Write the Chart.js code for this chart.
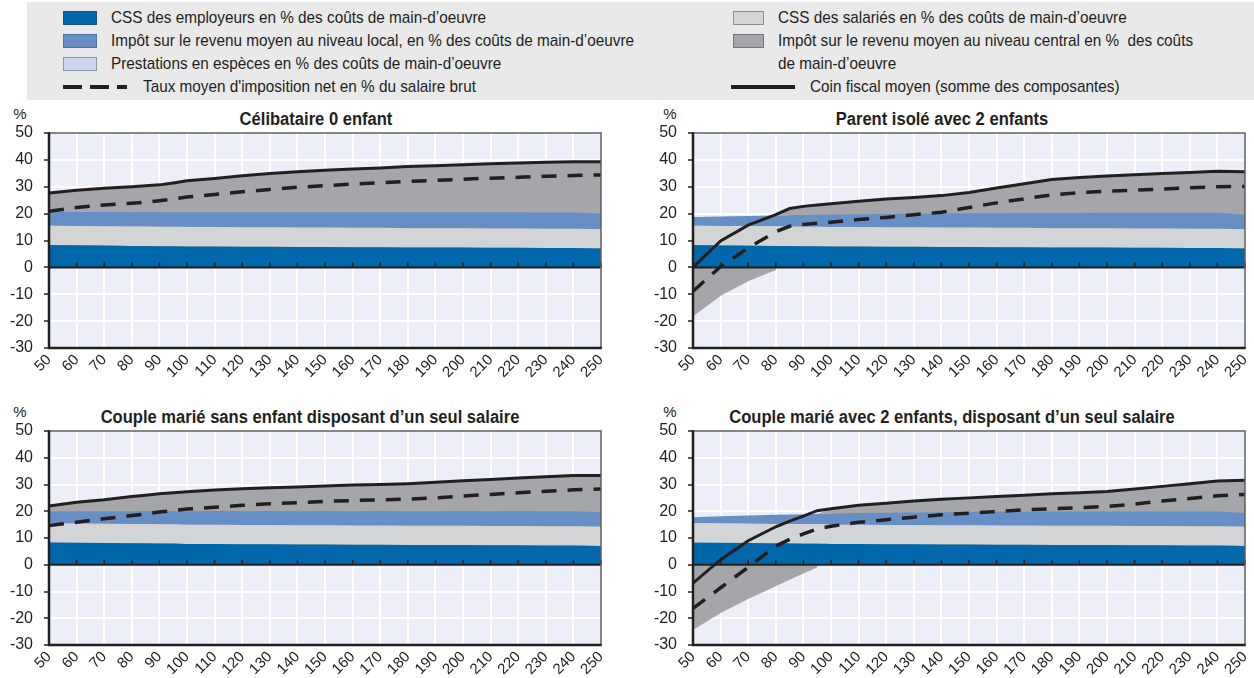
<!DOCTYPE html>
<html lang="fr">
<head>
<meta charset="utf-8">
<title>Coin fiscal moyen par composante</title>
<script src="https://cdn.jsdelivr.net/npm/chart.js@4.4.1/dist/chart.umd.min.js"></script>
<style>
    html, body {
        margin: 0;
        padding: 0;
        background: #fff;
    }
    body {
        position: relative;
        width: 1254px;
        height: 678px;
        overflow: hidden;
        font-family: "Liberation Sans", Arial, sans-serif;
        color: #231f20;
    }
    .abs { position: absolute; }
    #legende {
        position: absolute;
        left: 27px;
        top: 2px;
        width: 1227px;
        height: 98px;
        background: #e9e9ea;
    }
    .leg-texte {
        position: absolute;
        font-size: 17px;
        line-height: 18px;
        white-space: pre;
        transform: scaleX(0.9);
        transform-origin: left center;
    }
    .carre {
        position: absolute;
        height: 14px;
        box-sizing: border-box;
    }
    .titre {
        position: absolute;
        font-size: 18px;
        font-weight: bold;
        white-space: nowrap;
        transform: translate(-50%, -50%) scaleX(0.92);
    }
    .pct {
        position: absolute;
        font-size: 15px;
        transform: translate(-50%, -50%);
    }
    canvas { position: absolute; }
</style>
</head>
<body>

<div id="legende"></div>
<div class="carre" style="left:63px;top:11px;width:34px;background:#0068aa;border:1px solid #1b4f7e"></div>
<div class="leg-texte" style="left:111px;top:9px">CSS des employeurs en % des coûts de main-d’oeuvre</div>
<div class="carre" style="left:63px;top:34px;width:34px;background:#6690c5;border:1px solid #4b72a3"></div>
<div class="leg-texte" style="left:111px;top:32px">Impôt sur le revenu moyen au niveau local, en % des coûts de main-d’oeuvre</div>
<div class="carre" style="left:63px;top:57px;width:34px;background:#cdd9ef;border:1px solid #8c97ae"></div>
<div class="leg-texte" style="left:111px;top:55px">Prestations en espèces en % des coûts de main-d’oeuvre</div>
<svg class="abs" style="left:60px;top:80px" width="72" height="14">
    <line x1="3" y1="7" x2="67" y2="7" stroke="#231f20" stroke-width="4" stroke-dasharray="19 8"/>
</svg>
<div class="leg-texte" style="left:143px;top:78px">Taux moyen d'imposition net en % du salaire brut</div>

<div class="carre" style="left:733px;top:11px;width:31px;background:#d3d4d5;border:1px solid #8e8e8e"></div>
<div class="leg-texte" style="left:778px;top:9px">CSS des salariés en % des coûts de main-d’oeuvre</div>
<div class="carre" style="left:733px;top:34px;width:31px;background:#a5a6a9;border:1px solid #76777a"></div>
<div class="leg-texte" style="left:778px;top:32px">Impôt sur le revenu moyen au niveau central en %  des coûts</div>
<div class="leg-texte" style="left:778px;top:55px">de main-d’oeuvre</div>
<svg class="abs" style="left:728px;top:80px" width="72" height="14">
    <line x1="3" y1="7" x2="67" y2="7" stroke="#231f20" stroke-width="4"/>
</svg>
<div class="leg-texte" style="left:810px;top:78px">Coin fiscal moyen (somme des composantes)</div>

<div class="pct" style="left:20px;top:113px">%</div>
<div class="titre" style="left:316px;top:119px">Célibataire 0 enfant</div>
<div class="pct" style="left:670px;top:113px">%</div>
<div class="titre" style="left:942px;top:119px">Parent isolé avec 2 enfants</div>
<div class="pct" style="left:20px;top:411px">%</div>
<div class="titre" style="left:310px;top:417px">Couple marié sans enfant disposant d’un seul salaire</div>
<div class="pct" style="left:670px;top:411px">%</div>
<div class="titre" style="left:952px;top:417px">Couple marié avec 2 enfants, disposant d’un seul salaire</div>

<canvas id="celib" width="620" height="262" style="left:0px;top:123px"></canvas>
<canvas id="parent" width="610" height="262" style="left:644px;top:123px"></canvas>
<canvas id="coupleSans" width="620" height="257" style="left:0px;top:421px"></canvas>
<canvas id="coupleDeux" width="610" height="257" style="left:644px;top:421px"></canvas>

<script>
// Salaire brut en % du salaire moyen
const abscisses = [50, 60, 70, 80, 85, 90, 95, 100, 110, 120, 130, 140, 150, 160, 170, 180, 190, 200, 210, 220, 230, 240, 250];

// CSS (identiques pour tous les ménages), en % des coûts de main-d'oeuvre
const cssEmployeurs = [8.3, 8.2, 8.1, 8.0, 8.0, 7.9, 7.9, 7.8, 7.8, 7.7, 7.7, 7.6, 7.6, 7.5, 7.5, 7.4, 7.4, 7.4, 7.3, 7.3, 7.2, 7.2, 7.0];
const cssSalaries = [7.2, 7.2, 7.2, 7.2, 7.2, 7.2, 7.2, 7.2, 7.2, 7.2, 7.2, 7.2, 7.2, 7.2, 7.2, 7.2, 7.2, 7.2, 7.2, 7.2, 7.2, 7.2, 7.2];

// Célibataire 0 enfant
const impotLocalCelib = [5.1, 5.2, 5.3, 5.3, 5.4, 5.4, 5.4, 5.5, 5.5, 5.6, 5.6, 5.7, 5.7, 5.8, 5.8, 5.9, 5.9, 5.9, 6.0, 6.0, 6.0, 6.0, 5.8];
const impotCentralCelib = [7.1, 8.1, 8.8, 9.5, 9.8, 10.2, 10.9, 11.7, 12.6, 13.6, 14.4, 15.1, 15.6, 16.1, 16.5, 17.0, 17.3, 17.7, 18.1, 18.3, 18.7, 18.9, 19.3];
const coinFiscalCelib = [27.7, 28.7, 29.4, 30.0, 30.4, 30.7, 31.4, 32.2, 33.1, 34.1, 34.9, 35.6, 36.1, 36.6, 37.0, 37.5, 37.8, 38.2, 38.6, 38.8, 39.1, 39.3, 39.3];
const tauxNetCelib = [20.9, 22.3, 23.2, 23.9, 24.3, 24.8, 25.4, 26.2, 27.1, 28.1, 29.0, 29.8, 30.4, 31.0, 31.5, 32.0, 32.4, 32.8, 33.2, 33.5, 33.9, 34.2, 34.4];

// Parent isolé avec 2 enfants
const impotLocalParent = [3.2, 3.5, 3.8, 4.1, 4.2, 4.4, 4.5, 4.7, 4.8, 5.0, 5.1, 5.2, 5.3, 5.4, 5.5, 5.6, 5.6, 5.7, 5.8, 5.8, 5.9, 5.9, 5.4];
const impotCentralParent = [-18.3, -10.6, -5.2, -1.0, 2.5, 3.2, 3.6, 4.0, 4.8, 5.5, 6.0, 6.7, 7.8, 9.4, 10.9, 12.5, 13.2, 13.7, 14.2, 14.6, 15.0, 15.5, 16.0];
const coinFiscalParent = [0.0, 9.8, 15.7, 19.6, 21.9, 22.7, 23.2, 23.7, 24.6, 25.4, 26.0, 26.7, 27.9, 29.5, 31.1, 32.7, 33.4, 34.0, 34.5, 34.9, 35.3, 35.8, 35.6];
const tauxNetParent = [-8.9, 0.3, 7.2, 13.3, 15.3, 16.0, 16.4, 16.8, 17.8, 18.6, 19.6, 20.5, 22.3, 24.0, 25.5, 27.0, 27.8, 28.3, 28.7, 29.1, 29.6, 30.0, 30.1];

// Couple marié sans enfant, un seul salaire
const impotLocalCoupleSans = [4.4, 4.6, 4.7, 4.8, 4.9, 4.9, 5.0, 5.0, 5.1, 5.1, 5.2, 5.2, 5.3, 5.3, 5.4, 5.4, 5.4, 5.5, 5.5, 5.6, 5.6, 5.6, 5.4];
const impotCentralCoupleSans = [2.1, 3.4, 4.3, 5.5, 5.9, 6.5, 6.8, 7.3, 7.8, 8.4, 8.7, 9.1, 9.3, 9.8, 9.9, 10.3, 10.8, 11.3, 11.9, 12.3, 12.9, 13.4, 13.8];
const coinFiscalCoupleSans = [22.0, 23.4, 24.3, 25.5, 26.0, 26.5, 26.9, 27.3, 27.9, 28.4, 28.8, 29.1, 29.4, 29.8, 30.0, 30.3, 30.8, 31.4, 31.9, 32.4, 32.9, 33.4, 33.4];
const tauxNetCoupleSans = [14.7, 15.9, 17.2, 18.4, 19.0, 19.7, 20.3, 20.8, 21.5, 22.2, 22.8, 23.2, 23.7, 24.0, 24.3, 24.5, 25.0, 25.7, 26.3, 26.9, 27.5, 28.0, 28.3];

// Couple marié avec 2 enfants, un seul salaire
const impotLocalCoupleDeux = [2.3, 2.7, 3.1, 3.5, 3.6, 3.8, 3.9, 4.1, 4.3, 4.5, 4.6, 4.8, 4.9, 5.1, 5.1, 5.3, 5.3, 5.3, 5.4, 5.4, 5.5, 5.5, 5.1];
const impotCentralCoupleDeux = [-24.4, -18.0, -12.8, -8.0, -5.6, -3.3, -1.0, 1.8, 2.9, 3.6, 4.3, 4.9, 5.3, 5.7, 6.2, 6.6, 7.0, 7.5, 8.4, 9.4, 10.4, 11.4, 12.3];
const coinFiscalCoupleDeux = [-6.9, 1.9, 9.0, 14.2, 16.3, 18.2, 20.2, 20.9, 22.2, 23.0, 23.8, 24.5, 25.0, 25.5, 26.0, 26.5, 26.9, 27.4, 28.3, 29.3, 30.3, 31.3, 31.6];
const tauxNetCoupleDeux = [-16.3, -8.6, -0.9, 7.0, 9.5, 11.5, 13.4, 14.4, 15.9, 16.8, 17.8, 18.7, 19.3, 19.9, 20.5, 20.9, 21.3, 21.8, 22.7, 23.8, 24.8, 25.8, 26.3];

const COULEURS = {
    employeurs: '#0068aa',
    salaries: '#d3d4d5',
    local: '#6690c5',
    central: '#a5a6a9',
    trait: '#231f20',
    fond: '#eceff7'
};
const POLICE = '"Liberation Sans", Arial, sans-serif';

// fond du graphique, ligne du zéro avec ses graduations, cadre
const cadrePlugin = {
    id: 'cadre',
    beforeDraw(chart) {
        const a = chart.chartArea;
        const ctx = chart.ctx;
        ctx.save();
        ctx.fillStyle = COULEURS.fond;
        ctx.fillRect(a.left, a.top, a.right - a.left, a.bottom - a.top);
        ctx.restore();
    },
    afterDatasetsDraw(chart) {
        const a = chart.chartArea;
        const ctx = chart.ctx;
        const y0 = chart.scales.y.getPixelForValue(0);
        ctx.save();
        ctx.strokeStyle = COULEURS.trait;
        ctx.lineWidth = 2;
        ctx.beginPath();
        ctx.moveTo(a.left, y0);
        ctx.lineTo(a.right, y0);
        ctx.stroke();
        ctx.lineWidth = 1.5;
        for (let v = 60; v <= 250; v += 10) {
            const x = chart.scales.x.getPixelForValue(v);
            ctx.beginPath();
            ctx.moveTo(x, y0);
            ctx.lineTo(x, y0 - 5);
            ctx.stroke();
        }
        // haut et droite
        ctx.strokeStyle = '#5f5f61';
        ctx.lineWidth = 1.5;
        ctx.beginPath();
        ctx.moveTo(a.left, a.top);
        ctx.lineTo(a.right, a.top);
        ctx.lineTo(a.right, a.bottom);
        ctx.stroke();
        // axes gauche et bas
        ctx.strokeStyle = COULEURS.trait;
        ctx.lineWidth = 2.5;
        ctx.beginPath();
        ctx.moveTo(a.left, a.top - 0.75);
        ctx.lineTo(a.left, a.bottom);
        ctx.lineTo(a.right + 0.75, a.bottom);
        ctx.stroke();
        ctx.restore();
    }
};

function points(valeurs) {
    return abscisses.map((x, i) => ({ x: x, y: valeurs[i] }));
}

function aire(label, valeurs, couleur, fill) {
    return {
        label: label,
        data: points(valeurs),
        backgroundColor: couleur,
        borderWidth: 0,
        pointRadius: 0,
        fill: fill,
        order: 1
    };
}

function creerGraphique(id, local, central, coin, net, padDroite, hautAxeX) {
    const ctx = document.getElementById(id).getContext('2d');
    const centralPos = central.map(v => Math.max(v, 0));
    const centralNeg = central.map(v => Math.min(v, 0));

    return new Chart(ctx, {
        type: 'line',
        data: {
            datasets: [
                aire('CSS des employeurs', cssEmployeurs, COULEURS.employeurs, 'origin'),
                aire('CSS des salariés', cssSalaries, COULEURS.salaries, '-1'),
                aire('Impôt local', local, COULEURS.local, '-1'),
                aire('Impôt central', centralPos, COULEURS.central, '-1'),
                aire('Impôt central (négatif)', centralNeg, COULEURS.central, 'origin'),
                {
                    label: 'Coin fiscal moyen',
                    data: points(coin),
                    stack: 'coin',
                    borderColor: COULEURS.trait,
                    borderWidth: 3,
                    pointRadius: 0,
                    tension: 0,
                    fill: false,
                    order: 0
                },
                {
                    label: "Taux moyen d'imposition net",
                    data: points(net),
                    stack: 'net',
                    borderColor: COULEURS.trait,
                    borderWidth: 3.5,
                    borderDash: [15, 11],
                    pointRadius: 0,
                    tension: 0,
                    fill: false,
                    order: 0
                }
            ]
        },
        options: {
            responsive: false,
            devicePixelRatio: 1,
            animation: false,
            layout: {
                padding: { top: 10, right: padDroite, left: 0, bottom: 0 }
            },
            plugins: {
                legend: { display: false },
                tooltip: { enabled: false }
            },
            scales: {
                x: {
                    type: 'linear',
                    min: 50,
                    max: 250,
                    afterFit: (scale) => {
                        scale.height = hautAxeX;
                        scale.paddingLeft = 0;
                        scale.paddingRight = 0;
                        scale.paddingTop = 0;
                        scale.paddingBottom = 0;
                    },
                    afterBuildTicks: (scale) => {
                        scale.ticks = [];
                        for (let v = 50; v <= 250; v += 10) scale.ticks.push({ value: v });
                    },
                    ticks: {
                        minRotation: 45,
                        maxRotation: 45,
                        autoSkip: false,
                        padding: 3,
                        color: COULEURS.trait,
                        font: { family: POLICE, size: 15 }
                    },
                    grid: {
                        color: '#ffffff',
                        lineWidth: 2,
                        drawTicks: false
                    },
                    border: { display: false }
                },
                y: {
                    stacked: true,
                    min: -30,
                    max: 50,
                    afterFit: (scale) => {
                        scale.width = 49;
                        scale.paddingTop = 0;
                        scale.paddingBottom = 0;
                    },
                    ticks: {
                        stepSize: 10,
                        padding: 11,
                        color: COULEURS.trait,
                        font: { family: POLICE, size: 16 }
                    },
                    grid: {
                        color: '#ffffff',
                        lineWidth: 2,
                        drawTicks: true,
                        tickLength: 5,
                        tickColor: COULEURS.trait,
                        tickWidth: 1.5
                    },
                    border: { display: false }
                }
            }
        },
        plugins: [cadrePlugin]
    });
}

creerGraphique('celib', impotLocalCelib, impotCentralCelib, coinFiscalCelib, tauxNetCelib, 19, 37);
creerGraphique('parent', impotLocalParent, impotCentralParent, coinFiscalParent, tauxNetParent, 9, 37);
creerGraphique('coupleSans', impotLocalCoupleSans, impotCentralCoupleSans, coinFiscalCoupleSans, tauxNetCoupleSans, 19, 33);
creerGraphique('coupleDeux', impotLocalCoupleDeux, impotCentralCoupleDeux, coinFiscalCoupleDeux, tauxNetCoupleDeux, 9, 33);
</script>
</body>
</html>
